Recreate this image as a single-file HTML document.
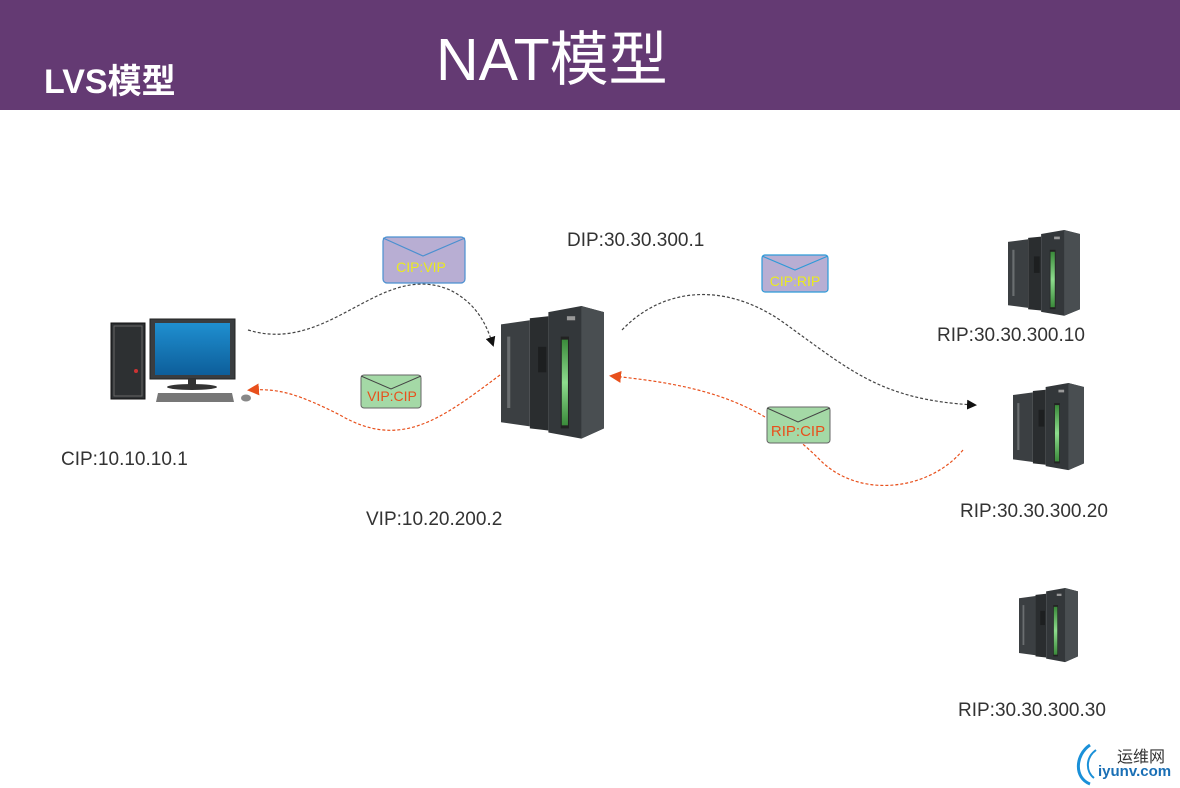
<!DOCTYPE html>
<html><head><meta charset="utf-8"><style>
body{margin:0;width:1180px;height:788px;overflow:hidden;background:#fff;font-family:"Liberation Sans","Noto Sans CJK SC",sans-serif;position:relative}
.hdr{position:absolute;left:0;top:0;width:1180px;height:110px;background:#643a73}
.t{position:absolute;white-space:nowrap}
.lbl{font-size:19px;color:#333}
</style></head><body>
<div class="hdr"></div>
<div class="t" style="left:436px;top:27px;font-size:59px;color:#fff;line-height:66px">NAT模型</div>
<div class="t" style="left:44px;top:62px;font-size:34px;color:#fff;font-weight:bold;line-height:40px">LVS模型</div>
<svg width="1180" height="788" style="position:absolute;left:0;top:0">
<defs>
<linearGradient id="scr" x1="0" y1="0" x2="0" y2="1"><stop offset="0" stop-color="#1f8fd0"/><stop offset="1" stop-color="#0d5e9a"/></linearGradient>
<linearGradient id="grn" x1="0" y1="0" x2="0" y2="1"><stop offset="0" stop-color="#3a8a3a"/><stop offset=".5" stop-color="#8ddc8d"/><stop offset="1" stop-color="#3a8a3a"/></linearGradient>
<g id="srv">
<polygon points="0,18 28,14 28,118 0,114" fill="#3b3f42"/>
<rect x="6" y="30" width="3" height="70" fill="#6a6e70"/>
<polygon points="28,12 46,10 46,122 28,120" fill="#2a2d2f"/>
<rect x="36" y="40" width="8" height="25" fill="#1d1f20"/>
<polygon points="46,6 78,0 100,6 100,120 78,130 46,124" fill="#33373a"/>
<polygon points="78,0 100,6 100,120 78,130" fill="#494e51"/>
<rect x="58" y="30" width="8" height="90" fill="#222"/>
<rect x="59" y="33" width="6" height="84" fill="url(#grn)"/>
<rect x="64" y="10" width="8" height="4" fill="#999"/>
</g>
<marker id="ab" markerWidth="10" markerHeight="10" refX="8" refY="5" orient="auto" markerUnits="userSpaceOnUse"><path d="M0,0 L10,5 L0,10Z" fill="#111"/></marker>
<marker id="ar" markerWidth="12" markerHeight="12" refX="9" refY="6" orient="auto" markerUnits="userSpaceOnUse"><path d="M0,0 L12,6 L0,12Z" fill="#e8501c"/></marker>
</defs>
<rect x="111" y="323" width="34" height="76" fill="#2d3032" stroke="#111"/>
<rect x="114" y="326" width="28" height="70" fill="none" stroke="#666"/>
<circle cx="136" cy="371" r="2" fill="#c33"/>
<rect x="150" y="319" width="85" height="60" fill="#3a3d40" stroke="#222"/>
<rect x="155" y="323" width="75" height="52" fill="url(#scr)"/>
<rect x="188" y="379" width="8" height="6" fill="#333"/>
<ellipse cx="192" cy="387" rx="25" ry="3" fill="#333"/>
<polygon points="158,393 232,393 234,402 156,402" fill="#777"/>
<ellipse cx="246" cy="398" rx="5" ry="3.5" fill="#888"/>
<use href="#srv" transform="translate(501,306) scale(1.03,1.02)"/>
<use href="#srv" transform="translate(1008,230) scale(0.72,0.66)"/>
<use href="#srv" transform="translate(1013,383) scale(0.71,0.67)"/>
<use href="#srv" transform="translate(1019,588) scale(0.59,0.57)"/>
<path d="M248,330 C330,355 380,260 450,290 C480,305 488,330 493,345" fill="none" stroke="#444" stroke-width="1.2" stroke-dasharray="3,2" marker-end="url(#ab)"/>
<path d="M500,375 C440,420 400,450 340,415 C300,395 280,388 250,390" fill="none" stroke="#e8501c" stroke-width="1.2" stroke-dasharray="3,2" marker-end="url(#ar)"/>
<path d="M622,330 C660,290 720,280 780,320 C850,370 880,400 975,405" fill="none" stroke="#444" stroke-width="1.2" stroke-dasharray="3,2" marker-end="url(#ab)"/>
<path d="M963,450 C930,490 860,500 820,460 C760,400 700,385 612,376" fill="none" stroke="#e8501c" stroke-width="1.2" stroke-dasharray="3,2" marker-end="url(#ar)"/>
<g font-family="Liberation Sans,sans-serif">
<rect x="383" y="237" width="82" height="46" rx="4" fill="#b8aed3" stroke="#4a90d0" stroke-width="1.2"/>
<path d="M383,238 L423,256 L465,238" fill="none" stroke="#4a90d0" stroke-width="1.2"/>
<text x="421" y="272" font-size="14" fill="#eaea20" text-anchor="middle">CIP:VIP</text>
<rect x="361" y="375" width="60" height="33" rx="3" fill="#a4d9a6" stroke="#666"/>
<path d="M361,376 L391,389 L421,376" fill="none" stroke="#444"/>
<text x="392" y="401" font-size="14" fill="#e8501c" text-anchor="middle">VIP:CIP</text>
<rect x="762" y="255" width="66" height="37" rx="3" fill="#b8aed3" stroke="#2d9ad8" stroke-width="1.2"/>
<path d="M762,256 L795,270 L828,256" fill="none" stroke="#2d9ad8" stroke-width="1.2"/>
<text x="795" y="286" font-size="14" fill="#eaea20" text-anchor="middle">CIP:RIP</text>
<rect x="767" y="407" width="63" height="36" rx="3" fill="#a4d9a6" stroke="#666"/>
<path d="M767,408 L798,422 L830,408" fill="none" stroke="#444"/>
<text x="798" y="436" font-size="15" fill="#e8501c" text-anchor="middle">RIP:CIP</text>
</g>
<path d="M1090,745 C1075,755 1074,778 1090,784" fill="none" stroke="#1a90d8" stroke-width="3"/>
<path d="M1096,750 C1085,758 1086,772 1094,778" fill="none" stroke="#1a90d8" stroke-width="2"/>
</svg>
<div class="t lbl" style="left:567px;top:230px">DIP:30.30.300.1</div>
<div class="t lbl" style="left:61px;top:449px">CIP:10.10.10.1</div>
<div class="t lbl" style="left:366px;top:509px">VIP:10.20.200.2</div>
<div class="t lbl" style="left:937px;top:325px">RIP:30.30.300.10</div>
<div class="t lbl" style="left:960px;top:501px">RIP:30.30.300.20</div>
<div class="t lbl" style="left:958px;top:700px">RIP:30.30.300.30</div>
<div class="t" style="left:1117px;top:743px;font-size:16px;color:#333">运维网</div>
<div class="t" style="left:1098px;top:763px;font-size:15px;color:#1a6fb5;font-weight:bold">iyunv.com</div>
</body></html>
